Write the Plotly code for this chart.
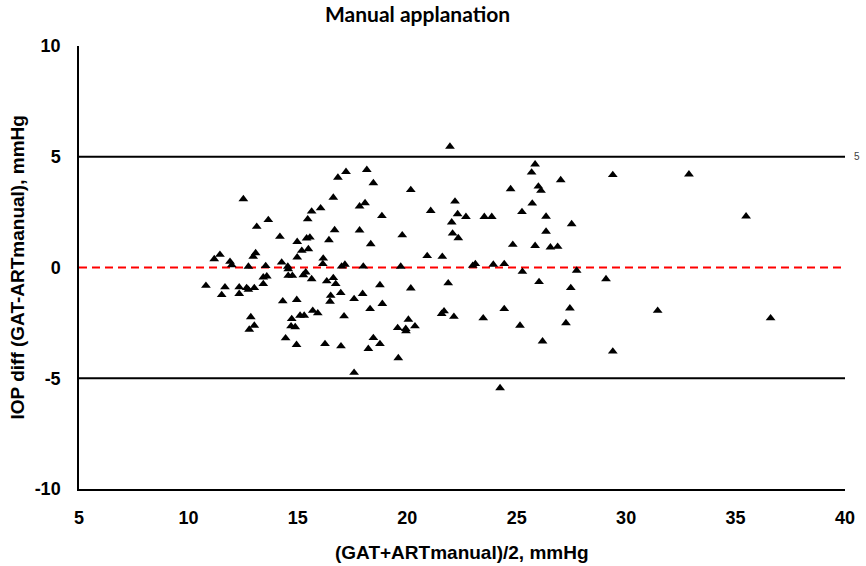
import plotly.graph_objects as go

# Bland-Altman data: mean of GAT and ART manual (x) vs difference (y)
mean_iop = [11.18, 11.44, 11.90, 11.98, 12.51, 12.74, 12.96, 13.07, 13.12, 13.53, 13.65, 14.18, 14.26, 14.54,
            14.97, 14.97, 15.18, 15.40, 15.55, 15.48, 15.45, 15.63, 16.04, 16.16, 16.14, 16.42, 16.62, 16.68,
            16.83, 17.20, 17.00, 17.15, 17.82, 17.82, 21.95, 18.15, 18.45, 20.16, 18.07, 18.84, 21.07, 22.18,
            22.30, 22.68, 22.03, 23.52, 23.86, 25.24, 24.72, 25.84, 25.68, 25.99, 26.11, 25.71, 26.34, 26.34,
            18.33, 19.77, 22.07, 22.33, 24.82, 25.84, 26.54, 26.87, 20.91, 21.60, 17.99, 19.70, 22.99, 23.11,
            23.93, 24.43, 27.01, 29.39, 32.87, 27.51, 35.48,
            27.74, 25.26, 26.02, 10.80, 11.67, 11.52, 12.32, 12.32, 12.66, 12.74, 13.01, 13.42, 13.58, 13.42,
            14.56, 14.56, 14.75, 15.25, 15.36, 15.63, 16.32, 16.62, 16.73, 16.96, 16.50, 16.47, 17.57, 14.31,
            14.95, 12.85, 13.01, 12.78, 14.72, 14.69, 14.88, 15.10, 15.29, 15.68, 15.91, 17.11, 14.44, 14.94,
            16.24, 16.97, 17.57, 18.75, 20.16, 21.87, 17.96, 18.30, 18.86, 19.56, 19.93, 19.94, 20.05, 20.35,
            21.57, 21.68, 22.13, 23.47, 24.43, 25.15, 26.18, 18.45, 18.22, 18.75, 19.59, 24.24, 29.08, 27.47,
            27.43, 31.44, 27.25, 36.60, 29.39]
diff_iop = [0.38, 0.58, 0.26, 0.11, 3.09, 0.04, 0.49, 0.65, 1.84, 0.07, 2.15, 1.39, 0.23, 0.04,
            1.16, 0.46, 0.76, 1.32, 1.36, 0.83, 2.18, 2.53, 2.68, 0.41, 0.16, 1.24, 3.16, 1.69,
            4.06, 4.32, 0.05, 0.13, 2.76, 1.68, 5.46, 4.41, 3.81, 3.50, 2.91, 2.33, 2.56, 2.98,
            2.41, 2.29, 2.04, 2.29, 2.29, 2.51, 3.54, 4.66, 4.29, 3.66, 3.47, 2.89, 2.30, 1.62,
            1.06, 1.46, 1.54, 1.33, 1.03, 0.98, 0.91, 0.94, 0.52, 0.49, 0.05, 0.04, 0.08, 0.16,
            0.13, 0.16, 3.95, 4.18, 4.21, 1.96, 2.31,
            -0.14, -0.19, -0.65, -0.82, -0.89, -1.24, -0.89, -1.19, -0.92, -1.00, -0.92, -0.44, -0.40, -0.74,
            -0.07, -0.37, -0.37, -0.34, -0.22, -0.52, -0.62, -0.47, -0.74, -1.15, -1.27, -1.54, -1.42, -1.52,
            -1.46, -2.24, -2.62, -2.80, -2.32, -2.65, -2.69, -2.17, -2.17, -1.95, -2.06, -2.20, -3.19, -3.49,
            -3.45, -3.55, -4.75, -0.79, -0.94, -0.71, -1.19, -1.87, -1.64, -2.73, -2.77, -2.87, -2.35, -2.65,
            -2.09, -1.97, -2.22, -2.29, -1.87, -2.62, -3.33, -3.18, -3.67, -3.45, -4.09, -5.44, -0.52, -0.92,
            -1.84, -1.95, -2.51, -2.29, -3.79]

mean_difference = 0
limits_of_agreement = [5, -5]
x_ticks = [5, 10, 15, 20, 25, 30, 35, 40]
y_ticks = [-10, -5, 0, 5, 10]
x_range = [5, 40]
y_range = [-10, 10]

title_text = "Manual applanation"
x_title = "(GAT+ARTmanual)/2, mmHg"
y_title = "IOP diff (GAT-ARTmanual), mmHg"

FONT = "Liberation Sans, Arial, sans-serif"

# figure fills the whole 866x566 window (body margin removed below)
W, H = 866, 566
L, R, T, B = 79, 21, 46, 77
PW, PH = W - L - R, H - T - B

fig = go.Figure()

for lim in limits_of_agreement:
    fig.add_trace(go.Scatter(x=x_range, y=[lim, lim], mode="lines",
                             line=dict(color="black", width=2), hoverinfo="skip", showlegend=False))
fig.add_trace(go.Scatter(x=x_range, y=[mean_difference, mean_difference], mode="lines",
                         line=dict(color="#FF0000", width=2, dash="8px,5px"), hoverinfo="skip", showlegend=False))

fig.add_trace(go.Scatter(x=mean_iop, y=diff_iop, mode="markers",
                         marker=dict(symbol="triangle-up", size=8.5, color="black"),
                         showlegend=False))

fig.update_layout(
    width=W, height=H,
    margin=dict(l=L, r=R, t=T, b=B),
    paper_bgcolor="white", plot_bgcolor="white",
    font=dict(family=FONT, color="black"),
    showlegend=False,
    xaxis=dict(range=x_range, tickvals=x_ticks, ticktext=[str(v) for v in x_ticks],
               showgrid=False, zeroline=False, showline=True, linecolor="black", linewidth=2,
               ticks="outside", ticklen=11, tickcolor="rgba(0,0,0,0)",
               tickfont=dict(family=FONT, size=18, color="black", weight="bold")),
    yaxis=dict(range=y_range, tickvals=y_ticks, ticktext=[str(v) for v in y_ticks],
               showgrid=False, zeroline=False, showline=True, linecolor="black", linewidth=1.5,
               ticks="outside", ticklen=13, tickcolor="rgba(0,0,0,0)",
               tickfont=dict(family=FONT, size=18, color="black", weight="bold")),
    annotations=[
        dict(text="<b>" + title_text + "</b>", xref="paper", yref="paper",
             x=(417 - L) / PW, y=1 + (T - 14) / PH, xanchor="center", yanchor="middle",
             showarrow=False, font=dict(family="Lato, sans-serif", size=21, color="black")),
        dict(text="<b>" + x_title + "</b>", xref="paper", yref="paper",
             x=0.5, y=-(552 - (T + PH)) / PH, xanchor="center", yanchor="middle",
             showarrow=False, font=dict(family=FONT, size=19, color="black")),
        dict(text="<b>" + y_title + "</b>", xref="paper", yref="paper",
             x=-(L - 17) / PW, y=0.5, xanchor="center", yanchor="middle", textangle=-90,
             showarrow=False, font=dict(family=FONT, size=19, color="black")),
        dict(text=str(limits_of_agreement[0]), xref="paper", yref="y",
             x=(857 - L) / PW, y=limits_of_agreement[0], xanchor="center", yanchor="middle",
             showarrow=False, font=dict(family=FONT, size=10, color="#404040")),
    ],
)

fig.write_html("out.html", config={"displayModeBar": False},
               post_script="document.body.style.margin='0';")
